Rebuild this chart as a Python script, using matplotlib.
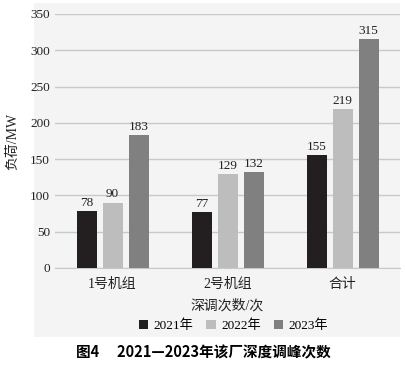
import matplotlib.pyplot as plt
import numpy as np
from matplotlib.patches import Rectangle

# data
categories = ["1号机组", "2号机组", "合计"]
years = ["2021年", "2022年", "2023年"]
v2021 = [78, 77, 155]
v2022 = [90, 129, 219]
v2023 = [183, 132, 315]
colors = ["#231f20", "#bdbdbd", "#808080"]

serif = ["Liberation Serif", "Noto Sans CJK SC"]
plt.rcParams["font.family"] = serif

fig = plt.figure(figsize=(4.06, 3.65), dpi=100)
fig.patches.append(Rectangle((0.084, 0.077), 0.902, 0.915, transform=fig.transFigure,
                             facecolor="#f4f4f4", edgecolor="none", zorder=-10))
ax = fig.add_axes([0.1355, 0.2658, 0.8498, 0.6959])
ax.set_facecolor("none")

x = np.arange(len(categories))
w = 0.174
off = 0.226
for i, (vals, yr) in enumerate(zip([v2021, v2022, v2023], years)):
    bars = ax.bar(x + (i - 1) * off, vals, w, color=colors[i], label=yr, zorder=3)
    for b, v in zip(bars, vals):
        ax.text(b.get_x() + b.get_width() / 2, v + 3, str(v), ha="center", va="bottom",
                fontsize=9.5, color="#222222")

ax.set_xlim(-0.5, 2.5)
ax.set_ylim(0, 350)
ax.set_yticks(np.arange(0, 351, 50))
ax.grid(axis="y", color="#c8c8c8", linewidth=1.0, zorder=0)
ax.set_axisbelow(True)
for s in ["top", "right", "left"]:
    ax.spines[s].set_visible(False)
ax.spines["bottom"].set_color("#c8c8c8")
ax.tick_params(axis="both", length=0, labelsize=9.5, colors="#222222")
ax.tick_params(axis="x", pad=7)
ax.set_xticks(x)
ax.set_xticklabels(categories, fontsize=10)
ax.set_xlabel("深调次数/次", fontsize=10, color="#222222", labelpad=6)
ax.set_ylabel("负荷/MW", fontsize=10, color="#222222", labelpad=8)

fig.legend(loc="center", bbox_to_anchor=(0.575, 0.107), ncol=3, frameon=False,
           fontsize=9.5, handlelength=0.7, handleheight=0.7, handletextpad=0.4,
           columnspacing=1.0)

fig.text(0.5, 0.035, "图4\u2003 2021—2023年该厂深度调峰次数", ha="center", va="center",
         fontsize=10.5, fontweight="bold", family=["Noto Sans CJK SC", "DejaVu Sans"])

fig.savefig("out.png", dpi=100)
